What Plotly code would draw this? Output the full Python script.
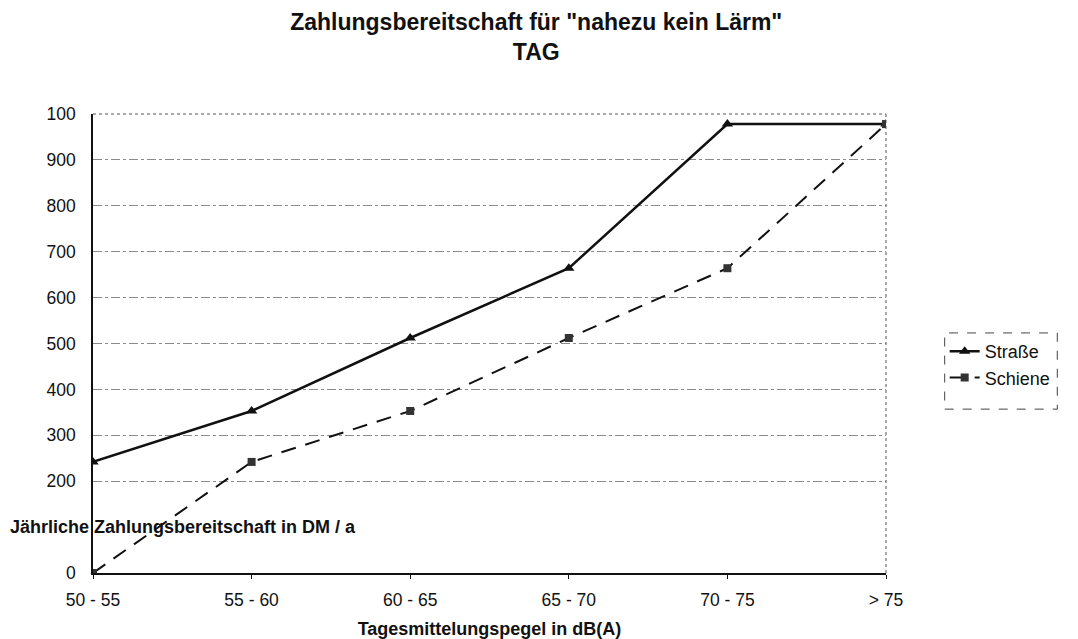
"""Zahlungsbereitschaft fuer 'nahezu kein Laerm' - TAG."""

import plotly.graph_objects as go

# ---------------------------------------------------------------------------
# Data
# ---------------------------------------------------------------------------

CATEGORIES = ["50 - 55", "55 - 60", "60 - 65", "65 - 70", "70 - 75", "> 75"]
STRASSE = [242, 353, 512, 664, 978, 978]
SCHIENE = [0, 242, 353, 512, 664, 978]

Y_TICKVALS = [0, 200, 300, 400, 500, 600, 700, 800, 900, 1000]
Y_TICKTEXT = ["0", "200", "300", "400", "500", "600", "700", "800", "900", "100"]

FONT = "Liberation Sans, Arial, Helvetica, sans-serif"
INK = "#111111"
GRID = "#8a8a8a"

fig = go.Figure()
fig.add_trace(go.Scatter(
    x=CATEGORIES, y=STRASSE, name="Straße",
    mode="lines+markers",
    line=dict(color=INK, width=2.5),
    marker=dict(symbol="triangle-up", size=10, color=INK),
))
fig.add_trace(go.Scatter(
    x=CATEGORIES, y=SCHIENE, name="Schiene",
    mode="lines+markers",
    line=dict(color=INK, width=2, dash="15px,10px"),
    marker=dict(symbol="square", size=8, color="#333333"),
))

fig.update_layout(
    width=1078, height=639,
    font=dict(family=FONT, color=INK, size=17),
    paper_bgcolor="white", plot_bgcolor="white",
    margin=dict(l=85, r=200, t=106, b=74),
    title=dict(
        text="<b>Zahlungsbereitschaft für \"nahezu kein Lärm\"<br>TAG</b>",
        x=0.49, xanchor="center", y=0.972, yanchor="top",
        pad=dict(t=4),
        font=dict(size=23, color=INK),
    ),
    xaxis=dict(
        type="category", range=[0, 5],
        showgrid=False, zeroline=False,
        showline=True, linecolor=INK, linewidth=1.5,
        ticks="outside", ticklen=4, tickcolor=INK,
        ticklabelstandoff=6,
        tickfont=dict(size=17.5, color=INK),
        title=dict(text="<b>Tagesmittelungspegel in dB(A)</b>",
                   font=dict(size=18, color=INK), standoff=14),
    ),
    yaxis=dict(
        range=[0, 1000],
        tickvals=Y_TICKVALS, ticktext=Y_TICKTEXT,
        showgrid=True, gridcolor=GRID, gridwidth=1, griddash="dashdot",
        zeroline=False,
        showline=True, linecolor=INK, linewidth=1.5,
        ticks="", ticklabelstandoff=12,
        tickfont=dict(size=17.5, color=INK),
    ),
    legend=dict(
        x=1.074, y=0.523, xanchor="left", yanchor="top",
        bgcolor="rgba(0,0,0,0)", borderwidth=0,
        font=dict(size=18, color=INK), tracegroupgap=0,
        itemwidth=30,
    ),
    showlegend=True,
)

# y-axis title sits inside the chart at the 100 level, like the original
fig.add_annotation(
    text="<b>Jährliche Zahlungsbereitschaft in DM / a</b>",
    xref="paper", x=0, xanchor="left", xshift=-85,
    yref="y", y=100, yanchor="middle",
    showarrow=False, font=dict(size=18, color=INK),
)

# dotted frame on top and right
fig.add_shape(type="line", xref="paper", yref="paper", x0=0, x1=1, y0=1, y1=1,
              line=dict(color="#555555", width=1, dash="dot"))
fig.add_shape(type="line", xref="paper", yref="paper", x0=1, x1=1, y0=0, y1=1,
              line=dict(color="#555555", width=1, dash="dot"))
# dashed legend frame and the stray vertical rule right of it
fig.add_shape(type="rect", xref="paper", yref="paper",
              x0=1.074, x1=1.216, y0=0.357, y1=0.523,
              line=dict(color="#444444", width=1, dash="dash"))
fig.add_shape(type="line", xref="paper", yref="paper", x0=1.239, x1=1.239,
              y0=0.36, y1=0.523, line=dict(color=INK, width=1))

fig.write_html("out.html")
